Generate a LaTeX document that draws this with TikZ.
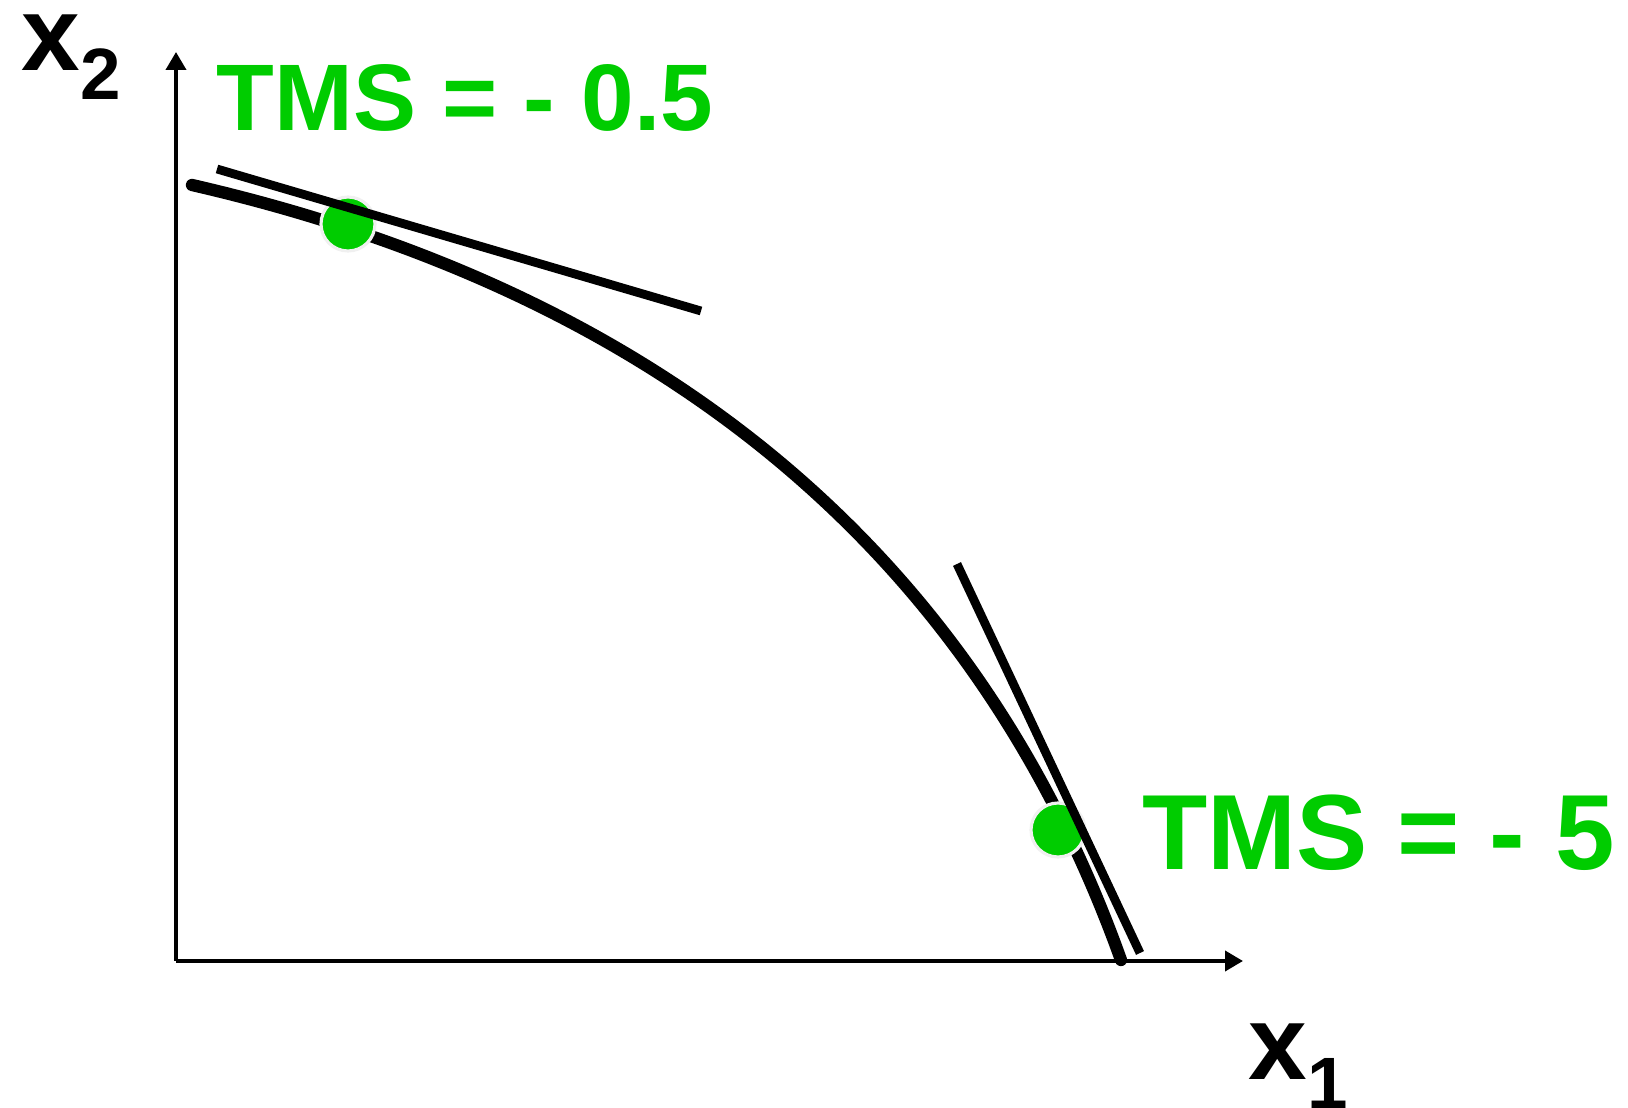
\documentclass[tikz,border=0pt]{standalone}
\usepackage{fontspec}
\setmainfont{Liberation Sans}
\usepackage{xcolor}
\usetikzlibrary{arrows.meta}
\definecolor{tmsgreen}{RGB}{0,204,0}

\begin{document}
\begin{tikzpicture}[
  x=0.1mm, y=-0.1mm,
  axis/.style={line width=1.1pt, -{Triangle[length=1.8mm, width=2mm]}},
  frontier/.style={line width=3.5pt, line cap=round},
  tangent/.style={line width=2.5pt},
  tmsdot/.style={circle, fill=tmsgreen, draw=gray!12, line width=0.9pt, minimum size=5.4mm, inner sep=0pt},
  tmslabel/.style={text=tmsgreen, font=\bfseries, inner sep=0pt, anchor=base west},
  axlabel/.style={font=\bfseries, inner sep=0pt, anchor=base west},
]
\useasboundingbox (0,0) rectangle (1628,1108);

% Axes
\coordinate (origin) at (176,961);
\coordinate (ytip) at (176,52);
\coordinate (xtip) at (1243,961);
\draw[axis] (origin) -- (ytip);
\draw[axis] (origin) -- (xtip);

\node[axlabel] (xtwo) at (21,71) {\fontsize{30}{36}\selectfont x\raisebox{-8pt}{\fontsize{20.7}{24}\selectfont 2}};
\node[axlabel] (xone) at (1248,1080) {\fontsize{30}{36}\selectfont x\raisebox{-8pt}{\fontsize{20.7}{24}\selectfont 1}};

% Frontier curve
\coordinate (curvestart) at (192,185);
\coordinate (curveend) at (1121,960);
\draw[frontier] (curvestart) .. controls (692,300) and (985,580) .. (curveend);

% Points on the curve
\node[tmsdot] (dotA) at (348,224) {};
\node[tmsdot] (dotB) at (1058,830) {};

% Tangent lines
\coordinate (tanAstart) at (217,169);
\coordinate (tanAend) at (701,311);
\coordinate (tanBstart) at (957,564);
\coordinate (tanBend) at (1140,953);
\draw[tangent] (tanAstart) -- (tanAend);
\draw[tangent] (tanBstart) -- (tanBend);

% TMS labels
\node[tmslabel] (tmsA) at (216,131) {\fontsize{26.9}{32}\selectfont TMS = - 0.5};
\node[tmslabel] (tmsB) at (1142,870) {\fontsize{30.4}{36}\selectfont TMS = - 5};

\end{tikzpicture}
\end{document}
